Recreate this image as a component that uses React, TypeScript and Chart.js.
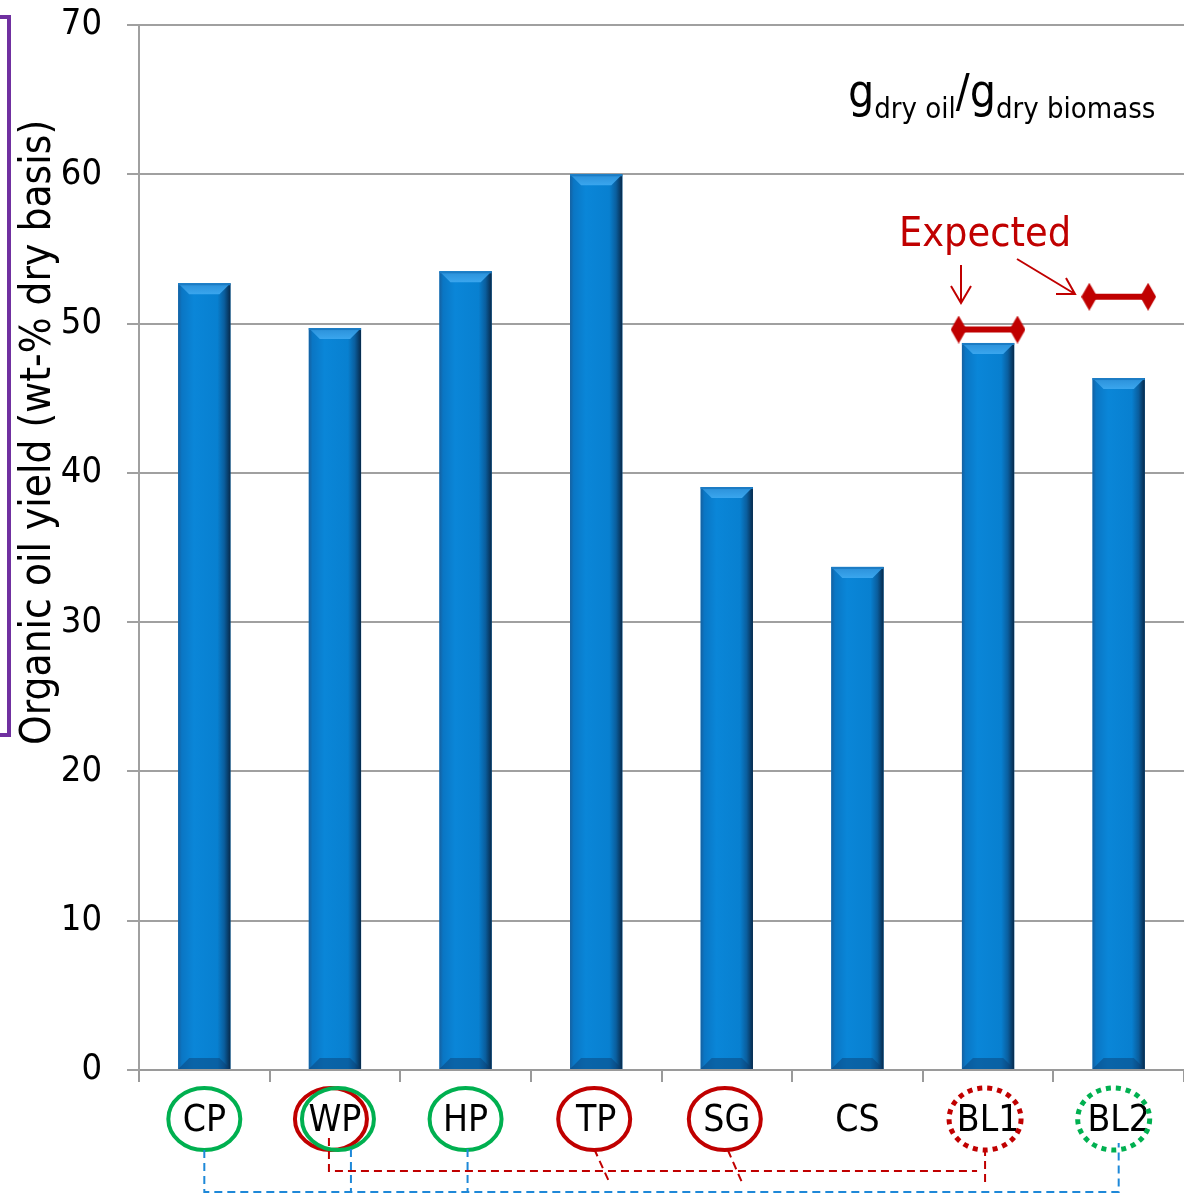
import { useEffect, useRef } from 'react';
import { Chart, registerables } from 'chart.js';

Chart.register(...registerables);

const categories = ['CP', 'WP', 'HP', 'TP', 'SG', 'CS', 'BL1', 'BL2'];
const oilYield = [52.7, 49.7, 53.5, 60.0, 39.05, 33.7, 48.7, 46.35];
const expectedBL1 = 49.6;
const expectedBL2 = 51.8;
const yMin = 0;
const yMax = 70;
const yStep = 10;
const yTitle = 'Organic oil yield (wt-% dry basis)';
const unitMain = 'g';
const unitSubTop = 'dry oil';
const unitSubBottom = 'dry biomass';
const expectedLabel = 'Expected';
const ringColors = ['green', 'green|red', 'green', 'red', 'red', '', 'red-dot', 'green-dot'];

const FONT = "'DejaVu Sans Condensed', 'DejaVu Sans', sans-serif";
const RED = '#C00000';
const GREEN = '#00B050';
const BLUE_DASH = '#1E88D8';

function makeDiamond(): HTMLCanvasElement {
  const c = document.createElement('canvas');
  c.width = 16;
  c.height = 28;
  const g = c.getContext('2d')!;
  g.fillStyle = RED;
  g.beginPath();
  g.moveTo(8, 0);
  g.lineTo(16, 14);
  g.lineTo(8, 28);
  g.lineTo(0, 14);
  g.closePath();
  g.fill();
  return c;
}

const barBevel = {
  id: 'barBevel',
  afterDatasetDraw(chart: any, args: any) {
    if (args.index !== 0) return;
    const ctx = chart.ctx;
    const meta = chart.getDatasetMeta(0);
    meta.data.forEach((el: any) => {
      const { x, y, base, width } = el.getProps(['x', 'y', 'base', 'width'], true);
      const l = x - width / 2;
      const r = x + width / 2;
      const t = y;
      const b = base;
      ctx.save();
      const gr = ctx.createLinearGradient(l, 0, r, 0);
      gr.addColorStop(0, '#1560A0');
      gr.addColorStop(0.07, '#0A76C4');
      gr.addColorStop(0.3, '#0A86D8');
      gr.addColorStop(0.75, '#0880D0');
      gr.addColorStop(0.88, '#0A5E9E');
      gr.addColorStop(1, '#07294A');
      ctx.fillStyle = gr;
      ctx.fillRect(l, t, width, b - t);
      const bv = 11;
      const tg = ctx.createLinearGradient(0, t, 0, t + bv);
      tg.addColorStop(0, '#2A8FD8');
      tg.addColorStop(1, '#3AA6EE');
      ctx.fillStyle = tg;
      ctx.beginPath();
      ctx.moveTo(l, t);
      ctx.lineTo(r, t);
      ctx.lineTo(r - bv, t + bv);
      ctx.lineTo(l + bv, t + bv);
      ctx.closePath();
      ctx.fill();
      ctx.fillStyle = '#1C7CC4';
      ctx.fillRect(l, t, width, 2);
      ctx.fillStyle = 'rgba(10,60,110,0.45)';
      ctx.beginPath();
      ctx.moveTo(l, b);
      ctx.lineTo(r, b);
      ctx.lineTo(r - bv, b - bv);
      ctx.lineTo(l + bv, b - bv);
      ctx.closePath();
      ctx.fill();
      ctx.restore();
    });
  },
};

const decorations = {
  id: 'decorations',
  afterDraw(chart: any) {
    const ctx = chart.ctx;
    const xs = chart.scales.x;
    const cx = (i: number) => xs.getPixelForValue(i);
    ctx.save();

    // purple bracket
    ctx.strokeStyle = '#7030A0';
    ctx.lineWidth = 4;
    ctx.beginPath();
    ctx.moveTo(0, 17);
    ctx.lineTo(9, 17);
    ctx.lineTo(9, 735);
    ctx.lineTo(0, 735);
    ctx.stroke();

    // y title
    ctx.save();
    ctx.translate(50, 745);
    ctx.rotate(-Math.PI / 2);
    ctx.fillStyle = '#000';
    ctx.font = `42px ${FONT}`;
    ctx.textAlign = 'left';
    ctx.textBaseline = 'alphabetic';
    ctx.fillText(yTitle, 0, 0);
    ctx.restore();

    // unit text
    ctx.fillStyle = '#000';
    ctx.textBaseline = 'alphabetic';
    ctx.textAlign = 'left';
    let px = 848;
    const big = `46px ${FONT}`;
    const small = `29px ${FONT}`;
    ctx.font = big;
    ctx.fillText(unitMain, px, 107);
    px += ctx.measureText(unitMain).width;
    ctx.font = small;
    ctx.fillText(unitSubTop, px, 118);
    px += ctx.measureText(unitSubTop).width;
    ctx.font = big;
    ctx.fillText('/' + unitMain, px, 107);
    px += ctx.measureText('/' + unitMain).width;
    ctx.font = small;
    ctx.fillText(unitSubBottom, px, 118);

    // Expected text and arrows
    ctx.fillStyle = RED;
    ctx.font = `41px ${FONT}`;
    ctx.fillText(expectedLabel, 899, 246);
    ctx.strokeStyle = RED;
    ctx.lineWidth = 2;
    ctx.beginPath();
    ctx.moveTo(961, 265);
    ctx.lineTo(961, 303);
    ctx.moveTo(951, 286);
    ctx.lineTo(961, 303);
    ctx.lineTo(971, 286);
    ctx.moveTo(1017, 259);
    ctx.lineTo(1075, 294);
    ctx.moveTo(1056, 294);
    ctx.lineTo(1075, 294);
    ctx.lineTo(1066, 278);
    ctx.stroke();

    // rings around labels
    const ly = 1119;
    const ring = (x: number, color: string, dotted: boolean) => {
      ctx.save();
      ctx.strokeStyle = color;
      ctx.lineWidth = dotted ? 5 : 4;
      if (dotted) ctx.setLineDash([5, 5]);
      ctx.beginPath();
      ctx.ellipse(x, ly, 36, 31, 0, 0, Math.PI * 2);
      ctx.stroke();
      ctx.restore();
    };
    ringColors.forEach((rc, i) => {
      const x = cx(i);
      if (rc === 'green') ring(x, GREEN, false);
      if (rc === 'red') ring(x - 2, RED, false);
      if (rc === 'green|red') {
        ring(x - 4, RED, false);
        ring(x + 3, GREEN, false);
      }
      if (rc === 'red-dot') ring(x - 3, RED, true);
      if (rc === 'green-dot') ring(x - 5, GREEN, true);
    });

    // connectors
    ctx.lineWidth = 2;
    ctx.setLineDash([8, 5]);
    ctx.strokeStyle = BLUE_DASH;
    ctx.beginPath();
    ctx.moveTo(cx(0), 1150);
    ctx.lineTo(cx(0), 1192);
    ctx.lineTo(cx(7), 1192);
    ctx.lineTo(cx(7), 1143);
    ctx.moveTo(cx(1) + 16, 1149);
    ctx.lineTo(cx(1) + 16, 1192);
    ctx.moveTo(cx(2) + 2, 1149);
    ctx.lineTo(cx(2) + 2, 1192);
    ctx.stroke();

    ctx.strokeStyle = RED;
    ctx.beginPath();
    ctx.moveTo(cx(1) - 6, 1138);
    ctx.lineTo(cx(1) - 6, 1171);
    ctx.lineTo(cx(6) - 11, 1171);
    ctx.moveTo(cx(6) - 3, 1148);
    ctx.lineTo(cx(6) - 3, 1182);
    ctx.moveTo(cx(3) - 2, 1149);
    ctx.lineTo(cx(3) + 13, 1182);
    ctx.moveTo(cx(4) + 1, 1150);
    ctx.lineTo(cx(4) + 15, 1182);
    ctx.stroke();
    ctx.restore();
  },
};

export default function App() {
  const ref = useRef<HTMLCanvasElement | null>(null);
  useEffect(() => {
    if (!ref.current) return;
    const diamond = makeDiamond();
    const expLine = (center: number, v: number) => ({
      type: 'line' as const,
      xAxisID: 'x2',
      yAxisID: 'y',
      data: [
        { x: center - 0.225, y: v },
        { x: center + 0.225, y: v },
      ],
      borderColor: RED,
      backgroundColor: RED,
      borderWidth: 6,
      pointStyle: diamond,
      pointRadius: 8,
      showLine: true,
      clip: false,
      order: 0,
    });
    const chart = new Chart(ref.current, {
      type: 'bar',
      data: {
        labels: categories,
        datasets: [
          {
            type: 'bar',
            data: oilYield,
            backgroundColor: '#0A82D4',
            borderWidth: 0,
            barPercentage: 0.4,
            categoryPercentage: 1,
            grouped: false,
            order: 1,
          } as any,
          expLine(6, expectedBL1) as any,
          expLine(7, expectedBL2) as any,
        ],
      },
      options: {
        animation: false,
        responsive: false,
        devicePixelRatio: 1,
        layout: { autoPadding: false, padding: { top: 25, right: 0, left: 0, bottom: 0 } },
        plugins: { legend: { display: false }, tooltip: { enabled: false } },
        scales: {
          x: {
            type: 'category',
            grid: {
              offset: true,
              drawOnChartArea: false,
              drawTicks: true,
              tickLength: 12,
              color: '#9A9A9A',
              lineWidth: 2,
            },
            border: { color: '#9A9A9A', width: 2 },
            ticks: {
              color: '#000',
              font: { family: FONT, size: 37 },
              padding: 17,
              maxRotation: 0,
            },
            afterFit(s: any) {
              s.height = 124;
              s.paddingLeft = 0;
              s.paddingRight = 0;
            },
          },
          x2: {
            type: 'linear',
            display: false,
            bounds: 'data',
            offset: false,
            min: -0.5,
            max: 7.5,
            afterDataLimits(s: any) {
              s.min = -0.5;
              s.max = 7.5;
            },
            afterBuildTicks(s: any) {
              s.min = -0.5;
              s.max = 7.5;
            },
          },
          y: {
            min: yMin,
            max: yMax,
            ticks: {
              stepSize: yStep,
              color: '#000',
              font: { family: FONT, size: 36 },
              padding: 25,
            },
            grid: {
              color: '#A0A0A0',
              lineWidth: 2,
              tickLength: 12,
            },
            border: { color: '#A0A0A0', width: 2 },
            afterFit(s: any) {
              s.width = 139;
              s.paddingTop = 0;
              s.paddingBottom = 0;
            },
          },
        },
      },
      plugins: [barBevel, decorations],
    });
    return () => chart.destroy();
  }, []);
  return (
    <div style={{ position: 'absolute', left: 0, top: 0, width: 1184, height: 1194, background: '#fff' }}>
      <canvas ref={ref} width={1184} height={1194} style={{ display: 'block' }} />
    </div>
  );
}
